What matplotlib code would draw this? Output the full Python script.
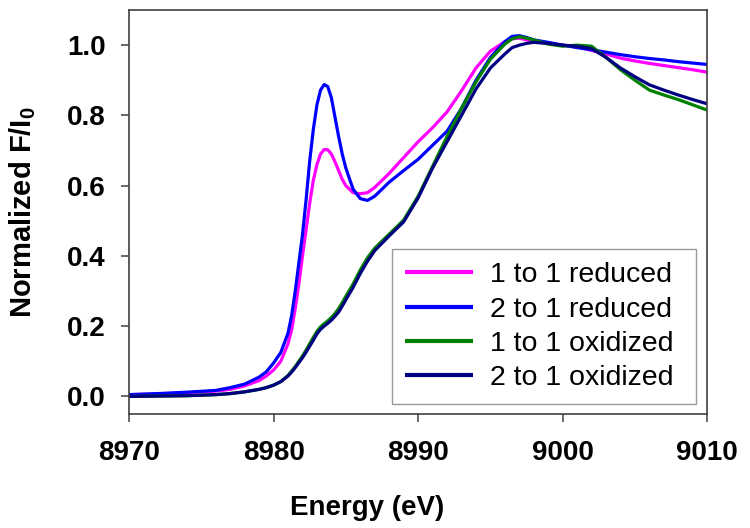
import matplotlib
matplotlib.use("Agg")
import matplotlib.pyplot as plt

plt.rcParams['font.family'] = ['Liberation Sans', 'DejaVu Sans']
plt.rcParams['mathtext.fontset'] = 'custom'
plt.rcParams['mathtext.rm'] = 'Liberation Sans:bold'

# Energy grid (eV)
energy = [8970, 8972, 8974, 8976, 8977, 8978, 8979, 8979.5, 8980, 8980.5,
          8981, 8981.25, 8981.5, 8981.75, 8982, 8982.25, 8982.5, 8982.75, 8983, 8983.25,
          8983.5, 8983.75, 8984, 8984.25, 8984.5, 8984.75, 8985, 8985.5, 8986, 8986.5,
          8987, 8988, 8989, 8990, 8991, 8992, 8993, 8994, 8995, 8996,
          8996.5, 8997, 8997.5, 8998, 8999, 9000, 9001, 9002, 9003, 9004,
          9005, 9006, 9007, 9008, 9009, 9010]

red_1to1 = [0.005, 0.007, 0.010, 0.015, 0.020, 0.030, 0.045, 0.058, 0.075, 0.100,
            0.150, 0.190, 0.250, 0.320, 0.400, 0.475, 0.550, 0.615, 0.660, 0.690,
            0.703, 0.702, 0.690, 0.668, 0.643, 0.618, 0.600, 0.580, 0.577, 0.580,
            0.595, 0.635, 0.680, 0.725, 0.765, 0.810, 0.870, 0.935, 0.983, 1.010,
            1.018, 1.020, 1.015, 1.010, 1.005, 1.000, 0.995, 0.985, 0.975, 0.963,
            0.955, 0.948, 0.942, 0.936, 0.930, 0.923]

red_2to1 = [0.005, 0.008, 0.012, 0.017, 0.025, 0.035, 0.055, 0.070, 0.095, 0.125,
            0.180, 0.230, 0.300, 0.380, 0.460, 0.560, 0.670, 0.760, 0.830, 0.872,
            0.888, 0.882, 0.850, 0.795, 0.740, 0.690, 0.650, 0.590, 0.563, 0.558,
            0.570, 0.610, 0.643, 0.675, 0.715, 0.755, 0.820, 0.900, 0.965, 1.010,
            1.025, 1.027, 1.022, 1.015, 1.008, 1.000, 0.993, 0.987, 0.980, 0.973,
            0.967, 0.962, 0.958, 0.953, 0.949, 0.945]

ox_1to1 = [0.000, 0.001, 0.002, 0.005, 0.008, 0.013, 0.020, 0.025, 0.032, 0.042,
           0.060, 0.072, 0.085, 0.100, 0.115, 0.132, 0.150, 0.168, 0.185, 0.198,
           0.207, 0.215, 0.225, 0.236, 0.250, 0.267, 0.285, 0.320, 0.360, 0.395,
           0.422, 0.462, 0.502, 0.570, 0.655, 0.740, 0.820, 0.895, 0.960, 1.003,
           1.018, 1.024, 1.020, 1.015, 1.003, 0.997, 1.000, 0.997, 0.965, 0.930,
           0.900, 0.872, 0.858, 0.845, 0.830, 0.815]

ox_2to1 = [0.000, 0.001, 0.002, 0.005, 0.008, 0.013, 0.020, 0.025, 0.032, 0.042,
           0.058, 0.069, 0.082, 0.096, 0.110, 0.126, 0.143, 0.160, 0.178, 0.191,
           0.200, 0.208, 0.217, 0.228, 0.240, 0.257, 0.275, 0.310, 0.350, 0.385,
           0.415, 0.457, 0.497, 0.565, 0.650, 0.725, 0.800, 0.875, 0.935, 0.975,
           0.993, 1.000, 1.005, 1.008, 1.005, 1.000, 0.997, 0.990, 0.965, 0.935,
           0.910, 0.887, 0.872, 0.858, 0.845, 0.833]

labels = ['1 to 1 reduced', '2 to 1 reduced', '1 to 1 oxidized', '2 to 1 oxidized']
colors = ['#ff00ff', '#0000ff', '#008000', '#000080']
series = [red_1to1, red_2to1, ox_1to1, ox_2to1]

fig = plt.figure(figsize=(7.5, 5.28), dpi=100)
ax = fig.add_axes([0.172, 0.216, 0.771, 0.765])

for ys, c, lab in zip(series, colors, labels):
    ax.plot(energy, ys, color=c, lw=2.3, label=lab, solid_capstyle='butt')

ax.set_xlim(8970, 9010)
ax.set_ylim(-0.05, 1.1)
ax.set_xticks([8970, 8980, 8990, 9000, 9010])
ax.set_yticks([0.0, 0.2, 0.4, 0.6, 0.8, 1.0])
ax.set_yticklabels(['0.0', '0.2', '0.4', '0.6', '0.8', '1.0'])

for sp in ax.spines.values():
    sp.set_color('#404040')
    sp.set_linewidth(1.2)
ax.tick_params(axis='both', direction='out', length=6, width=1.1, color='#404040',
               labelsize=20)
ax.tick_params(axis='y', pad=11)
ax.tick_params(axis='x', pad=13)
for t in ax.get_xticklabels() + ax.get_yticklabels():
    t.set_fontweight('bold')

ax.set_xlabel('Energy (eV)', fontsize=20, fontweight='bold')
ax.xaxis.set_label_coords(0.412, -0.2)
ax.set_ylabel(r'Normalized F/I$_\mathrm{0}$', fontsize=21, fontweight='bold')
ax.yaxis.set_label_coords(-0.158, 0.5)

# legend box placed where it sits in the picture
leg = ax.legend(loc='lower left', bbox_to_anchor=(0.455, 0.025, 0.526, 0.39),
                mode='expand', fontsize=20.5, frameon=True, fancybox=False,
                handlelength=2.4, handletextpad=0.6, labelspacing=0.29,
                borderpad=0.45, borderaxespad=0.0)
leg.get_frame().set_edgecolor('#808080')
leg.get_frame().set_linewidth(1.0)
for line in leg.get_lines():
    line.set_linewidth(3)

fig.savefig('out.png', dpi=100)
